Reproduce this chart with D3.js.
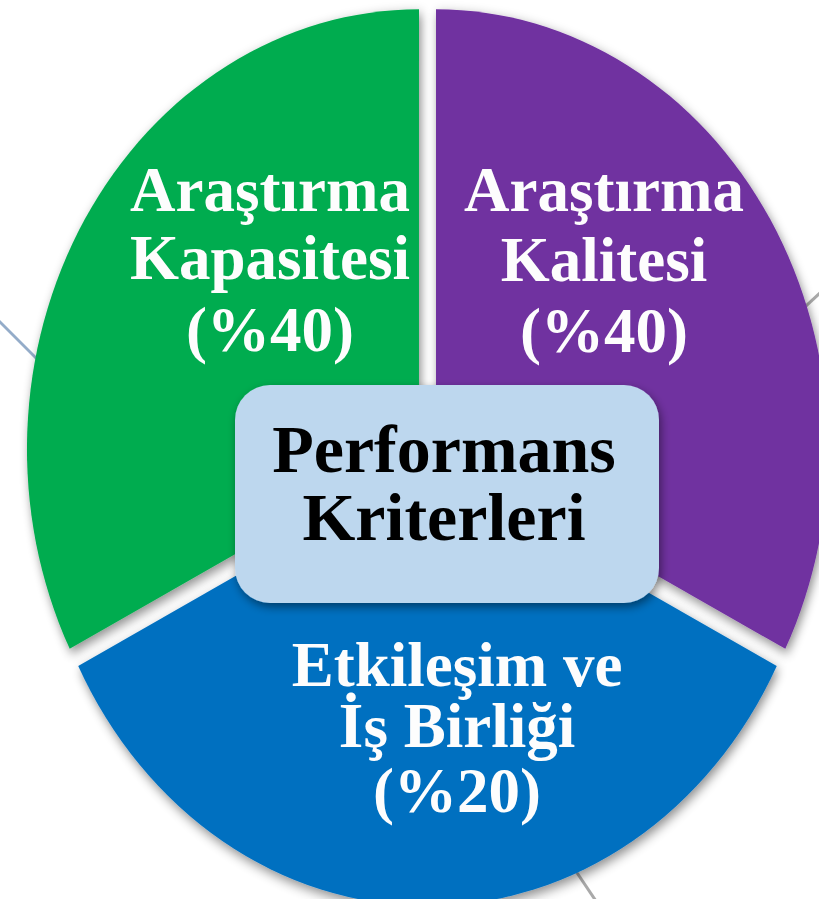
<!DOCTYPE html>
<html>
<head>
<meta charset="utf-8">
<script src="https://cdn.jsdelivr.net/npm/d3@7"></script>
<style>
  body { margin: 0; background: #fff; }
  svg { display: block; }
</style>
</head>
<body>
<div id="chart"></div>
<script>
// Segments in drawing order (clockwise from the left one)
var categories = ["Araştırma Kapasitesi", "Araştırma Kalitesi", "Etkileşim ve İş Birliği"];
var labelLines = [["Araştırma", "Kapasitesi"], ["Araştırma", "Kalitesi"], ["Etkileşim ve", "İş Birliği"]];
var weights = [40, 40, 20];          // percentages written in the labels
var sliceSpan = [117, 117, 126];     // angular size of each segment as drawn (degrees)
var centerTitle = ["Performans", "Kriterleri"];

var colors = ["#00ac4f", "#7030a0", "#0070c0"];

var width = 819, height = 899;
var cx = 427.5, cy = 455;
var radius = 392, stretchY = 1.122, explode = 10;

var svg = d3.select("#chart").append("svg")
    .attr("width", width)
    .attr("height", height);

var defs = svg.append("defs");
var shadow = defs.append("filter")
    .attr("id", "shadow")
    .attr("x", "-20%").attr("y", "-20%")
    .attr("width", "140%").attr("height", "140%");
shadow.append("feDropShadow")
    .attr("dx", 2).attr("dy", 4)
    .attr("stdDeviation", 5)
    .attr("flood-color", "#000")
    .attr("flood-opacity", 0.45);

// thin connector lines sitting behind the diagram
var deco = [
    {x1: -10, y1: 312, x2: 70, y2: 392, c: "#94acc9"},
    {x1: 835, y1: 279, x2: 780, y2: 330, c: "#a9a9a9"},
    {x1: 555, y1: 840, x2: 602, y2: 910, c: "#a9a9a9"}
];
svg.selectAll(".deco")
    .data(deco)
    .enter()
    .append("line")
    .attr("x1", function(d) { return d.x1; })
    .attr("y1", function(d) { return d.y1; })
    .attr("x2", function(d) { return d.x2; })
    .attr("y2", function(d) { return d.y2; })
    .attr("stroke", function(d) { return d.c; })
    .attr("stroke-width", 3);

// pie layout
var start = -sliceSpan[0] * Math.PI / 180;
var pie = d3.pie()
    .sort(null)
    .startAngle(start)
    .endAngle(start + 2 * Math.PI)
    .value(function(d) { return d; });

var arc = d3.arc()
    .innerRadius(0)
    .outerRadius(radius);

var arcs = pie(sliceSpan);

svg.selectAll(".slice")
    .data(arcs)
    .enter()
    .append("g")
    .attr("class", "slice")
    .attr("filter", "url(#shadow)")
    .attr("transform", function(d) {
        var a = (d.startAngle + d.endAngle) / 2;
        var ox = explode * Math.sin(a);
        var oy = -explode * Math.cos(a) * stretchY;
        return "translate(" + (cx + ox) + "," + (cy + oy) + ") scale(1," + stretchY + ")";
    })
    .append("path")
    .attr("d", arc)
    .attr("fill", function(d, i) { return colors[i]; });

// center box
var box = {x: 235, y: 385, w: 424, h: 218};
svg.append("rect")
    .attr("x", box.x)
    .attr("y", box.y)
    .attr("width", box.w)
    .attr("height", box.h)
    .attr("rx", 35)
    .attr("fill", "#bdd7ee")
    .attr("filter", "url(#shadow)");

svg.append("text")
    .attr("text-anchor", "middle")
    .attr("font-family", "'Liberation Serif', serif")
    .attr("font-weight", "bold")
    .attr("font-size", "68px")
    .attr("fill", "#000")
    .selectAll("tspan")
    .data(centerTitle)
    .enter()
    .append("tspan")
    .attr("x", 444)
    .attr("y", function(d, i) { return 472 + i * 68; })
    .text(function(d) { return d; });

// segment labels
var labelPos = [
    {x: 270, y: [211, 279, 351]},
    {x: 604, y: [211, 281, 352]},
    {x: 457, y: [686, 747, 812]}
];

var labels = svg.selectAll(".label")
    .data(categories)
    .enter()
    .append("text")
    .attr("class", "label")
    .attr("text-anchor", "middle")
    .attr("font-family", "'Liberation Serif', serif")
    .attr("font-weight", "bold")
    .attr("font-size", "63px")
    .attr("fill", "#fdfdfd");

labels.each(function(d, i) {
    var lines = labelLines[i].concat(["(%" + weights[i] + ")"]);
    d3.select(this).selectAll("tspan")
        .data(lines)
        .enter()
        .append("tspan")
        .attr("x", labelPos[i].x)
        .attr("y", function(l, j) { return labelPos[i].y[j]; })
        .text(function(l) { return l; });
});
</script>
</body>
</html>
